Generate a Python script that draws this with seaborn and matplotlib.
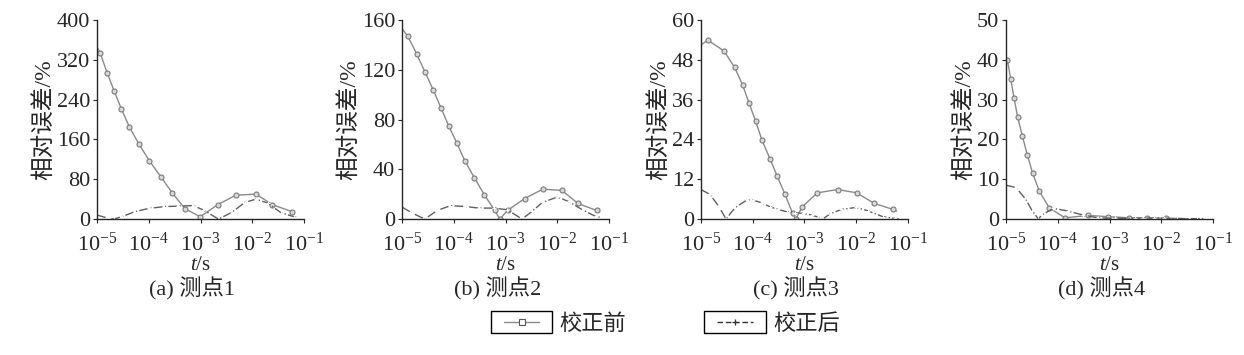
import numpy as np
import pandas as pd
import matplotlib
matplotlib.use("Agg")
import matplotlib.pyplot as plt
from matplotlib.lines import Line2D
from matplotlib.patches import Rectangle
from matplotlib.ticker import NullLocator, FixedLocator
import seaborn as sns

# ---- data ----
# (a) 测点1
t_a_before = [1e-5, 1.161e-5, 1.563e-5, 2.133e-5, 2.958e-5, 4.227e-5, 6.50e-5, 1.028e-4, 1.706e-4,
              2.825e-4, 4.966e-4, 9.82e-4, 2.158e-3, 4.82e-3, 1.175e-2, 2.455e-2, 5.73e-2, 6.46e-2]
e_a_before = [346, 333, 294, 258, 221, 185, 150, 117, 85, 53, 21, 4.6, 29, 48, 50, 29, 15, 13]
t_a_after = [1e-5, 1.66e-5, 2.09e-5, 3.02e-5, 5.43e-5, 1.02e-4, 2.0e-4, 3.72e-4, 7.24e-4, 1.14e-3,
             2.22e-3, 3.98e-3, 7.08e-3, 1.175e-2, 2.0e-2, 3.55e-2, 6.31e-2, 7.08e-2]
e_a_after = [8, 1.4, 0, 4.7, 15, 21.5, 25, 26, 27, 18, 0, 13, 33, 40, 32, 13, 4.7, 3]

# (b) 测点2
t_b_before = [1e-5, 1.288e-5, 1.905e-5, 2.754e-5, 3.98e-5, 5.62e-5, 7.94e-5, 1.148e-4, 1.622e-4, 2.51e-4,
              3.89e-4, 6.17e-4, 7.76e-4, 1.096e-3, 2.34e-3, 5.25e-3, 1.23e-2, 2.51e-2, 5.75e-2, 6.61e-2]
e_b_before = [153, 147, 133, 118.5, 104, 89.6, 75, 61, 47, 33, 19.5, 6.9, 0, 7, 16.5, 24, 23, 12.5, 6.9, 6]
t_b_after = [1e-5, 1.563e-5, 2.754e-5, 4.79e-5, 8.59e-5, 1.675e-4, 3.02e-4, 5.89e-4, 1.072e-3,
             2.09e-3, 3.24e-3, 5.13e-3, 1e-2, 1.66e-2, 3.02e-2, 5.5e-2, 6.6e-2]
e_b_after = [9.6, 4.8, 0, 6.9, 10.7, 10.1, 8.8, 8.8, 7.5, 0, 6.1, 13.3, 17.7, 14.1, 7.5, 2.1, 1.5]

# (c) 测点3
t_c_before = [1e-5, 1.349e-5, 2.78e-5, 4.47e-5, 6.38e-5, 8.51e-5, 1.138e-4, 1.514e-4, 2.148e-4, 2.972e-4,
              4.19e-4, 5.89e-4, 6.82e-4, 8.83e-4, 1.758e-3, 4.37e-3, 1.016e-2, 2.24e-2, 5.13e-2, 6.03e-2]
e_c_before = [52.5, 53.9, 50.7, 45.7, 40.4, 34.9, 29.5, 23.7, 18.2, 12.9, 7.5, 1.7, 0, 3.5, 7.9, 8.9, 7.9,
              4.7, 2.9, 2.4]
t_c_after = [1e-5, 1.493e-5, 2.239e-5, 3.04e-5, 4.53e-5, 7.62e-5, 1.023e-4, 1.479e-4, 2.148e-4, 3.10e-4,
             4.51e-4, 6.53e-4, 9.44e-4, 1.368e-3, 2.0e-3, 2.24e-3, 3.09e-3, 5.13e-3, 1e-2, 1.675e-2,
             3.27e-2, 5.5e-2, 6.6e-2]
e_c_after = [8.9, 7.4, 3.7, 0, 3.4, 5.7, 5.7, 4.9, 3.7, 2.9, 2.2, 1.9, 1.7, 1.2, 0.4, 0, 1.5, 2.9, 3.5, 2.5,
             0.7, 0.2, 0.1]

# (d) 测点4
t_d_before = [1e-5, 1.059e-5, 1.23e-5, 1.426e-5, 1.679e-5, 2.065e-5, 2.57e-5, 3.27e-5, 4.40e-5, 6.85e-5,
              1.38e-4, 3.8e-4, 9.33e-4, 2.4e-3, 5.25e-3, 1.26e-2, 3.16e-2]
e_d_before = [40.4, 40, 35.3, 30.5, 25.6, 20.9, 16.2, 11.5, 7, 2.8, 0.3, 0.9, 0.6, 0.3, 0.3, 0.2, 0.1]
t_d_after = [1e-5, 1.56e-5, 2.33e-5, 3.24e-5, 4.21e-5, 4.9e-5, 8.22e-5, 1.585e-4, 3.09e-4, 6.03e-4,
             1.26e-3, 3.16e-3, 4.47e-3, 7.08e-3, 1.12e-2, 2.0e-2, 5.0e-2, 7.08e-2]
e_d_after = [8.5, 7.9, 5.2, 2.0, 0, 1.0, 2.7, 2.0, 1.0, 0.3, 0.2, 0.2, 0.3, 0.2, 0.2, 0.1, 0.1, 0.1]

captions = ["(a) 测点1", "(b) 测点2", "(c) 测点3", "(d) 测点4"]
y_max = [400, 160, 60, 50]
y_step = [80, 40, 12, 10]
legend_labels = ["校正前", "校正后"]

panels = [
    (t_a_before, e_a_before, t_a_after, e_a_after),
    (t_b_before, e_b_before, t_b_after, e_b_after),
    (t_c_before, e_c_before, t_c_after, e_c_after),
    (t_d_before, e_d_before, t_d_after, e_d_after),
]

# ---- style ----
sns.set_style("ticks")
plt.rcParams["font.family"] = ["Liberation Serif", "Noto Sans CJK SC"]
plt.rcParams["mathtext.fontset"] = "custom"
plt.rcParams["mathtext.rm"] = "Liberation Serif"
plt.rcParams["mathtext.it"] = "Liberation Serif:italic"
plt.rcParams["axes.linewidth"] = 1.0

c_before = "#8a8a8a"
c_after = "#606060"
fs = 16

fig = plt.figure(figsize=(12.44, 3.55), dpi=100)
lefts = [0.078, 0.3232, 0.5635, 0.8087]

for i, (tb, eb, ta, ea) in enumerate(panels):
    ax = fig.add_axes([lefts[i], 0.383, 0.1664, 0.5606])
    sns.lineplot(x=tb, y=eb, ax=ax, color=c_before, lw=1.0, marker="o", markersize=3.6,
                 markerfacecolor="#d8d8d8", markeredgecolor="#7a7a7a", markeredgewidth=0.8,
                 markevery=slice(1, len(tb) - 1))
    sns.lineplot(x=ta, y=ea, ax=ax, color=c_after, lw=1.0, linestyle="-.", marker="+",
                 markersize=3.0, markeredgewidth=0.8, markevery=slice(1, len(ta) - 1))
    ax.set_xscale("log")
    ax.set_xlim(1e-5, 1e-1)
    ax.set_ylim(0, y_max[i])
    ax.xaxis.set_major_locator(FixedLocator([1e-5, 1e-4, 1e-3, 1e-2, 1e-1]))
    ax.xaxis.set_minor_locator(NullLocator())
    ax.set_yticks(np.arange(0, y_max[i] + 1, y_step[i]))
    ax.tick_params(labelsize=fs, length=3, width=0.8)
    ax.tick_params(axis="y", pad=2)
    ax.tick_params(axis="x", pad=7)
    sns.despine(ax=ax)
    ax.set_xlabel("$t$/s", fontsize=15, labelpad=0)
    ax.set_ylabel("相对误差/%", fontsize=17, labelpad=1)
    ax.text(0.46, -0.35, captions[i], transform=ax.transAxes, ha="center", va="center", fontsize=16)

# legend with a box around each handle
handles = [
    Line2D([], [], color=c_before, lw=1.0, marker="s", markersize=4,
           markerfacecolor="white", markeredgecolor="#555555", markeredgewidth=0.8),
    Line2D([], [], color="#333333", lw=1.0, linestyle=(0, (4, 2)), marker="+",
           markersize=5, markeredgewidth=0.9),
]
leg = fig.legend(handles, legend_labels, loc="center", bbox_to_anchor=(0.540, 0.085), ncol=2,
                 frameon=False, fontsize=fs, handlelength=1.6, handletextpad=0.9,
                 columnspacing=4.1)
fig.canvas.draw()
renderer = fig.canvas.get_renderer()
inv = fig.transFigure.inverted()
for ln in leg.get_lines():
    bb = ln.get_window_extent(renderer)
    xc, yc = (bb.x0 + bb.x1) / 2, (bb.y0 + bb.y1) / 2
    w = bb.width + 20
    h = 22
    (fx0, fy0) = inv.transform((xc - w / 2, yc - h / 2))
    (fx1, fy1) = inv.transform((xc + w / 2, yc + h / 2))
    fig.add_artist(Rectangle((fx0, fy0), fx1 - fx0, fy1 - fy0, transform=fig.transFigure,
                             fill=False, lw=1.0, ec="black"))

fig.savefig("out.png", dpi=100)
